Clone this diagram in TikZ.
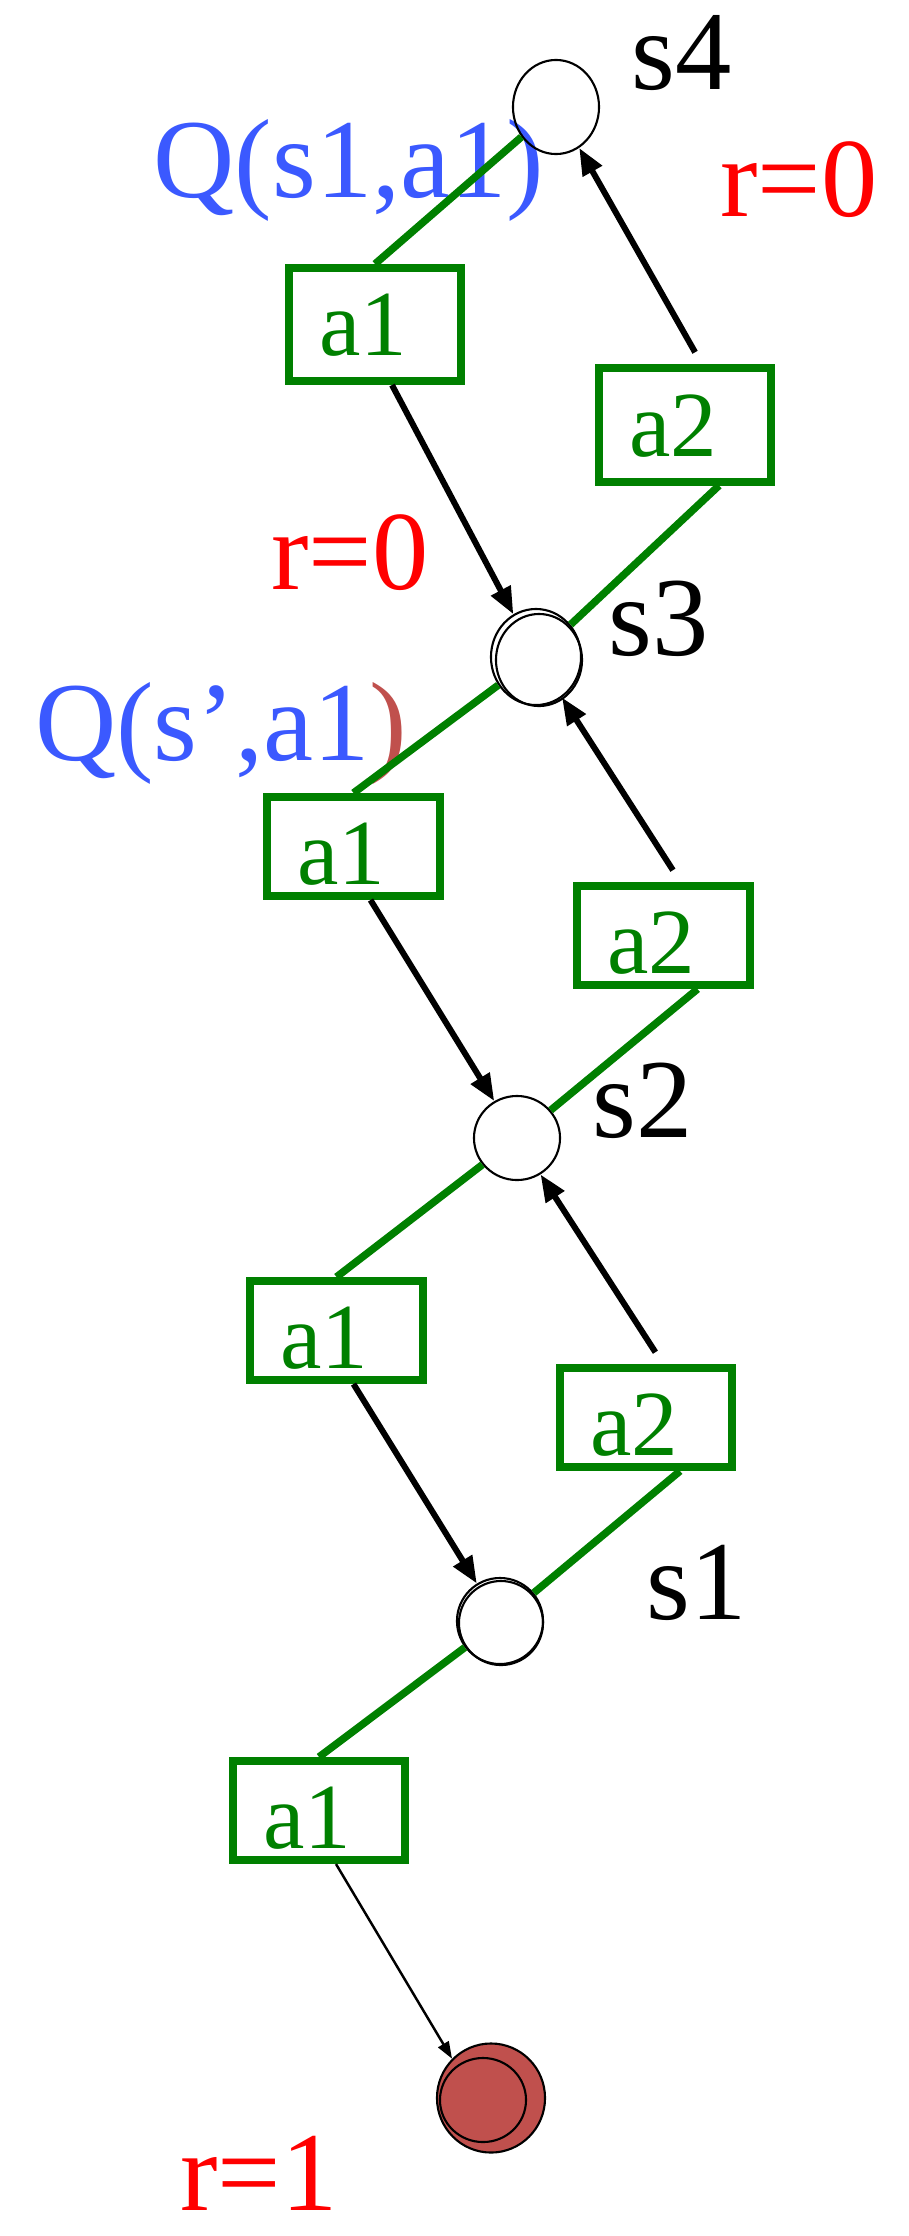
\documentclass[tikz,border=0pt]{standalone}
\usepackage{fontspec}
\setmainfont{Liberation Serif}
\usepackage{tikz}
\usetikzlibrary{arrows.meta,shapes.geometric,positioning}
\definecolor{actgreen}{RGB}{0,128,0}
\definecolor{qblue}{RGB}{59,89,255}
\definecolor{rred}{RGB}{255,0,0}
\definecolor{goalred}{RGB}{192,80,77}
\tikzset{
  state/.style={ellipse,draw,line width=0.6pt,minimum width=0.86cm,minimum height=0.94cm,inner sep=0pt},
  actbox/.style={draw=actgreen,line width=0.08cm,text=actgreen,minimum width=1.72cm,minimum height=0.99cm,inner sep=0pt,
    text height=21.5pt,text depth=0pt,execute at end node=\hspace{0.24cm},font=\fontsize{26.5}{30}\selectfont},
  toprow/.style={minimum height=1.13cm,text height=17.9pt},
  lbl/.style={anchor=base,inner sep=0pt,font=\fontsize{32}{36}\selectfont},
  link/.style={actgreen,line width=0.075cm},
  move/.style={-{Triangle[length=0.27cm,width=0.21cm]},line width=0.06cm},
}
\begin{document}
\begin{tikzpicture}[x=0.01cm,y=-0.01cm]
\useasboundingbox (0,0) rectangle (908,2236);
% labels
\node[lbl] (ls4) at (682,90) {s4};
\node[lbl] (ls3) at (659,655) {s3};
\node[lbl] (ls2) at (643,1137) {s2};
\node[lbl] (ls1) at (697,1619) {s1};
\node[lbl,text=qblue] (q1) at (349,197) {Q(s1,a1)};
\node[lbl,text=qblue] (q2) at (221,760) {Q(s’,a1\textcolor{goalred}{)}};
\node[lbl,text=rred] (r4) at (799,216) {r=0};
\node[lbl,text=rred] (r3) at (350,589) {r=0};
\node[lbl,text=rred] (rg) at (259,2210) {r=1};
% states
\node[state] (s4) at (556,107) {};
\node[state,minimum width=0.9cm,minimum height=0.96cm] (s3) at (536,657) {};
\draw[line width=0.6pt] ([xshift=0.03cm,yshift=-0.03cm]s3.center) ellipse (0.43cm and 0.46cm);
\node[state,minimum height=0.84cm] (s2) at (517,1138) {};
\node[state,minimum height=0.86cm] (s1) at (500,1621) {};
\draw[line width=0.6pt] ([xshift=0.01cm,yshift=-0.02cm]s1.center) ellipse (0.42cm and 0.42cm);
\node[state,fill=goalred,minimum width=1.08cm,minimum height=1.09cm] (goal) at (491,2098) {};
\draw[line width=0.6pt] ([xshift=-0.08cm,yshift=-0.02cm]goal.center) ellipse (0.43cm and 0.42cm);
% actions
\node[actbox,toprow] (a1s4) at (375,324.5) {a1};
\node[actbox,toprow] (a2s3) at (685,425) {a2};
\node[actbox] (a1s3) at (353.5,846.5) {a1};
\node[actbox] (a2s2) at (663.5,935.5) {a2};
\node[actbox] (a1s2) at (336.5,1330.5) {a1};
\node[actbox] (a2s1) at (646,1417.5) {a2};
\node[actbox] (a1s1) at (319,1810.5) {a1};
% green links
\draw[link] (a1s4.north) -- (s4);
\draw[link] ([xshift=0.34cm]a2s3.south) -- (s3);
\draw[link] (a1s3.north) -- (s3);
\draw[link] ([xshift=0.34cm]a2s2.south) -- (s2);
\draw[link] (a1s2.north) -- (s2);
\draw[link] ([xshift=0.34cm]a2s1.south) -- (s1);
\draw[link] (a1s1.north) -- (s1);
% transitions
\draw[move] ([xshift=0.17cm]a1s4.south) -- (s3);
\draw[move,shorten <=0.14cm] ([xshift=0.17cm]a2s3.north) -- (s4);
\draw[move] ([xshift=0.17cm]a1s3.south) -- (s2);
\draw[move,shorten <=0.14cm] ([xshift=0.17cm]a2s2.north) -- (s3);
\draw[move] ([xshift=0.17cm]a1s2.south) -- (s1);
\draw[move,shorten <=0.14cm] ([xshift=0.17cm]a2s1.north) -- (s2);
\draw[-{Triangle[length=0.17cm,width=0.12cm]},line width=0.7pt] ([xshift=0.17cm]a1s1.south) -- (goal.north west);
\end{tikzpicture}
\end{document}
